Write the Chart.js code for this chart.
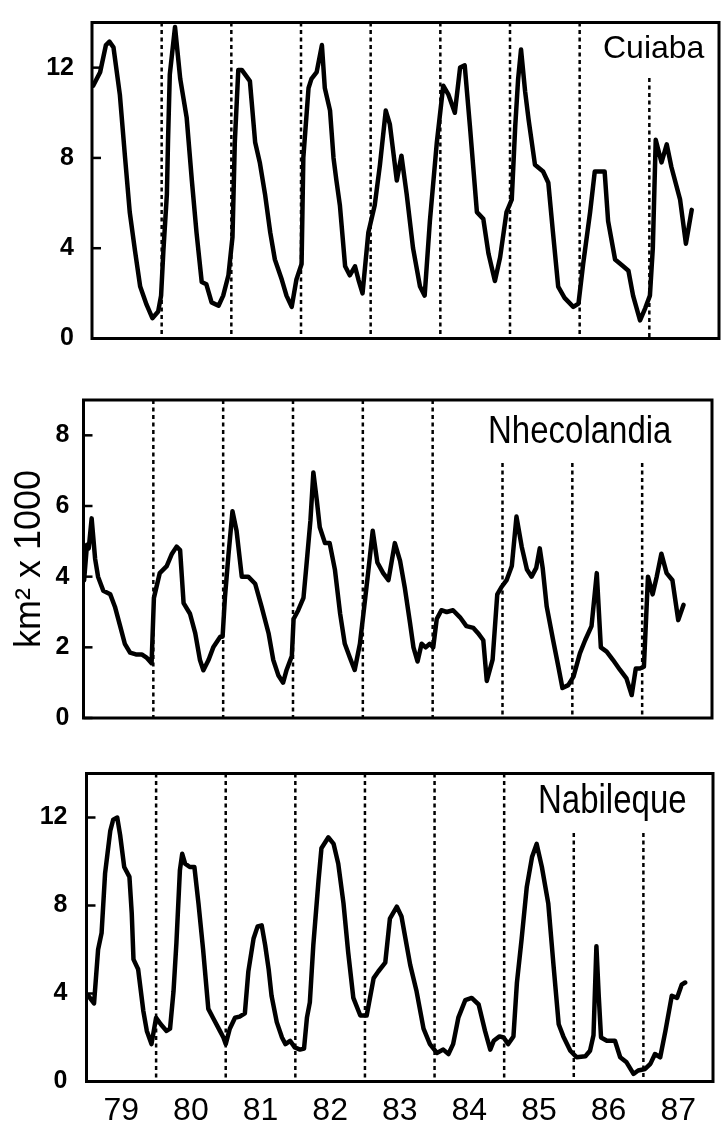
<!DOCTYPE html>
<html>
<head>
<meta charset="utf-8">
<script src="https://cdn.jsdelivr.net/npm/chart.js@4.4.0/dist/chart.umd.min.js"></script>
<style>
body { margin: 0; background: #fff; }
#wrap { position: relative; width: 723px; height: 1124px; }
canvas { position: absolute; left: 0; }
</style>
</head>
<body>
<div id="wrap">
    <canvas id="cuiabaChart" width="723" height="370" style="top:0px"></canvas>
    <canvas id="nhecolandiaChart" width="723" height="380" style="top:370px"></canvas>
    <canvas id="nabilequeChart" width="723" height="374" style="top:750px"></canvas>
</div>
<script>
// x values are months counted from January 1979
var yearLabels = ["79", "80", "81", "82", "83", "84", "85", "86", "87"];
var yearCenters = [6, 18, 30, 42, 54, 66, 78, 90, 102];
var yearStarts = [12, 24, 36, 48, 60, 72, 84, 96];

var cuiabaMonths = [0.2, 1.4, 2.4, 3.0, 3.7, 4.8, 5.7, 6.5, 7.4, 8.3, 9.4, 10.4, 11.4, 11.9, 12.3, 12.9, 13.1, 13.4, 14.3, 15.2,
    16.3, 17.2, 18.0, 18.9, 19.7, 20.6, 21.8, 22.6, 23.5, 24.2, 24.6, 25.2, 25.8, 27.2, 28.1, 28.9, 29.8, 30.7, 31.5, 32.7,
    33.5, 34.4, 35.2, 36.1, 36.4, 37.3, 37.8, 38.7, 39.6, 40.1, 41.0, 41.6, 42.1, 42.7, 43.6, 44.4, 45.3, 45.9, 46.6, 47.6,
    48.7, 49.6, 50.6, 51.3, 52.5, 53.3, 54.2, 55.3, 56.5, 57.3, 58.2, 59.4, 60.5, 61.4, 62.5, 63.4, 64.2, 65.1, 66.3, 67.4,
    68.3, 69.4, 70.3, 71.4, 72.3, 72.9, 73.4, 73.9, 74.6, 75.2, 76.3, 77.7, 78.6, 79.4, 80.3, 81.4, 82.9, 83.8, 84.6, 85.8,
    86.6, 88.3, 88.9, 90.1, 91.5, 92.4, 93.2, 94.4, 95.3, 96.1, 96.6, 97.1, 98.1, 99.0, 99.8, 101.3, 102.3, 103.3];
var cuiabaArea = [11.2, 11.8, 13.0, 13.15, 12.9, 10.8, 8.0, 5.6, 3.9, 2.3, 1.5, 0.9, 1.2, 1.9, 3.9, 6.4, 8.8, 11.7, 13.8, 11.5,
    9.8, 7.0, 4.7, 2.5, 2.4, 1.6, 1.45, 1.9, 2.8, 4.5, 8.7, 11.9, 11.9, 11.4, 8.7, 7.8, 6.4, 4.7, 3.5, 2.6,
    1.9, 1.4, 2.6, 3.3, 8.0, 11.1, 11.5, 11.8, 13.0, 11.1, 10.1, 8.0, 7.0, 5.9, 3.2, 2.8, 3.2, 2.6, 2.0, 4.7,
    5.9, 7.7, 10.1, 9.5, 7.0, 8.1, 6.4, 4.0, 2.3, 1.9, 5.2, 8.7, 11.2, 10.8, 10.0, 12.0, 12.1, 9.4, 5.6, 5.3,
    3.75, 2.55, 3.6, 5.6, 6.15, 9.4, 11.5, 12.8, 10.95, 9.7, 7.7, 7.4, 6.9, 4.7, 2.3, 1.8, 1.4, 1.55, 3.3, 5.6,
    7.4, 7.4, 5.2, 3.5, 3.2, 3.0, 1.9, 0.8, 1.35, 1.9, 4.0, 8.8, 7.8, 8.6, 7.6, 6.15, 4.2, 5.7];

var nhecolandiaMonths = [0.1, 0.6, 0.9, 1.4, 2.0, 2.5, 3.4, 4.6, 5.4, 6.3, 7.1, 8.0, 9.0, 10.0, 10.9, 11.7, 12.1, 13.1, 14.3, 15.2,
    16.0, 16.6, 17.2, 18.3, 19.2, 20.0, 20.6, 21.5, 22.3, 23.5, 23.9, 24.3, 24.9, 25.6, 26.3, 27.2, 28.3, 29.5, 30.6, 31.8,
    32.6, 33.5, 34.3, 34.9, 35.8, 36.1, 36.9, 37.8, 38.3, 39.0, 39.5, 40.1, 40.6, 41.5, 42.3, 43.2, 44.1, 44.9, 45.8, 46.6,
    47.5, 48.1, 48.9, 49.7, 50.5, 51.5, 52.4, 53.5, 54.4, 55.2, 56.1, 56.7, 57.4, 58.1, 58.8, 59.5, 60.1, 60.7, 61.5, 62.4,
    63.5, 64.7, 65.8, 67.0, 67.8, 68.7, 69.3, 70.3, 71.1, 71.8, 72.7, 73.6, 74.4, 75.3, 76.2, 77.0, 77.8, 78.4, 78.9, 79.6,
    80.7, 81.6, 82.3, 83.3, 84.2, 85.3, 86.2, 87.3, 88.2, 88.9, 89.9, 91.0, 92.2, 93.3, 94.2, 94.9, 95.6, 96.3, 97.0, 97.8,
    98.5, 99.3, 100.2, 101.2, 102.2, 103.1];
var nhecolandiaArea = [3.9, 4.9, 4.8, 5.65, 4.5, 4.0, 3.6, 3.5, 3.15, 2.6, 2.1, 1.85, 1.8, 1.8, 1.7, 1.55, 3.4, 4.1, 4.3, 4.65,
    4.85, 4.75, 3.25, 2.95, 2.4, 1.65, 1.35, 1.65, 2.0, 2.3, 2.3, 3.4, 4.6, 5.85, 5.3, 4.0, 4.0, 3.8, 3.15, 2.4,
    1.65, 1.2, 1.0, 1.36, 1.75, 2.8, 3.05, 3.4, 4.3, 5.6, 6.95, 6.15, 5.4, 4.95, 4.95, 4.2, 2.95, 2.1, 1.7, 1.36,
    2.1, 2.95, 4.1, 5.3, 4.4, 4.1, 3.9, 4.95, 4.45, 3.7, 2.7, 2.0, 1.6, 2.1, 2.0, 2.1, 2.0, 2.8, 3.05, 3.0,
    3.05, 2.85, 2.6, 2.55, 2.4, 2.2, 1.05, 1.65, 3.5, 3.7, 3.9, 4.3, 5.7, 4.85, 4.2, 4.0, 4.25, 4.8, 4.25, 3.15,
    2.2, 1.45, 0.85, 0.93, 1.17, 1.83, 2.2, 2.6, 4.1, 2.0, 1.88, 1.64, 1.36, 1.12, 0.65, 1.4, 1.4, 1.45, 4.0, 3.5,
    4.0, 4.65, 4.1, 3.9, 2.77, 3.2];

var nabilequeMonths = [0.3, 1.3, 2.0, 2.6, 3.2, 4.1, 4.6, 5.3, 5.8, 6.5, 7.4, 7.8, 8.1, 8.9, 9.8, 10.4, 11.2, 11.6, 12.0, 12.8,
    13.8, 14.4, 15.0, 15.5, 16.1, 16.5, 17.0, 17.8, 18.6, 19.3, 20.1, 21.0, 21.8, 23.0, 23.6, 24.0, 24.7, 25.6, 26.4, 27.3,
    27.9, 28.8, 29.5, 30.2, 30.8, 31.4, 31.9, 32.8, 33.7, 34.3, 35.1, 35.9, 36.8, 37.5, 38.0, 38.5, 39.1, 40.0, 40.5, 41.7,
    42.6, 43.4, 44.3, 45.1, 46.0, 47.2, 48.3, 49.5, 50.3, 51.5, 52.3, 53.5, 54.3, 55.8, 56.9, 58.1, 59.2, 60.4, 61.5, 62.4,
    63.2, 64.1, 65.3, 66.4, 67.6, 68.7, 69.6, 70.2, 71.2, 71.9, 72.7, 73.6, 74.2, 75.0, 75.9, 76.8, 77.6, 78.5, 79.6, 80.5,
    81.4, 82.2, 83.4, 84.5, 86.0, 86.8, 87.4, 87.9, 88.3, 88.7, 89.7, 91.1, 92.0, 93.1, 94.3, 95.1, 96.3, 97.2, 98.0, 98.9,
    99.8, 100.9, 101.8, 102.6, 103.2];
var nabilequeArea = [3.9, 3.55, 6.0, 6.75, 9.45, 11.4, 11.9, 12.0, 11.2, 9.75, 9.3, 7.65, 5.55, 5.1, 3.2, 2.3, 1.7, 2.3, 2.9, 2.6,
    2.3, 2.4, 4.1, 6.3, 9.6, 10.35, 9.9, 9.75, 9.75, 8.1, 6.0, 3.3, 2.9, 2.3, 2.0, 1.7, 2.4, 2.9, 2.95, 3.1,
    5.0, 6.5, 7.05, 7.1, 6.2, 5.1, 3.9, 2.7, 2.0, 1.7, 1.85, 1.55, 1.45, 1.5, 2.9, 3.6, 6.2, 9.15, 10.6, 11.1,
    10.8, 9.9, 8.1, 5.9, 3.8, 3.0, 3.0, 4.7, 5.0, 5.4, 7.4, 7.95, 7.5, 5.3, 4.1, 2.4, 1.7, 1.3, 1.45, 1.25,
    1.7, 2.9, 3.7, 3.8, 3.5, 2.3, 1.45, 1.85, 2.05, 2.0, 1.7, 2.05, 4.5, 6.45, 8.85, 10.2, 10.8, 9.75, 8.1, 5.3,
    2.6, 2.05, 1.4, 1.1, 1.15, 1.4, 2.1, 6.15, 3.9, 2.0, 1.85, 1.85, 1.1, 0.87, 0.35, 0.5, 0.57, 0.8, 1.25, 1.1,
    2.3, 3.9, 3.8, 4.4, 4.5];

function toPoints(months, values) {
    var pts = [];
    for (var i = 0; i < months.length; i++) {
        pts.push({x: months[i], y: values[i]});
    }
    return pts;
}

// frame, inward ticks, dashed year lines and the station name
var panelFrame = {
    id: "panelFrame",
    beforeDatasetsDraw: function(chart, args, opts) {
        var ctx = chart.ctx, area = chart.chartArea, xs = chart.scales.x;
        ctx.save();
        ctx.strokeStyle = "#000";
        ctx.lineWidth = 2.5;
        ctx.setLineDash([4, 3.5]);
        yearStarts.forEach(function(m) {
            var px = xs.getPixelForValue(m);
            var top = area.top;
            if (px > opts.labelX - 20) {
                top = opts.labelY + 20; // line stops under the name
            }
            ctx.beginPath();
            ctx.moveTo(px, top);
            ctx.lineTo(px, area.bottom);
            ctx.stroke();
        });
        ctx.restore();
    },
    afterDraw: function(chart, args, opts) {
        var ctx = chart.ctx, area = chart.chartArea, ys = chart.scales.y;
        ctx.save();
        ctx.strokeStyle = "#000";
        ctx.lineWidth = 3;
        ctx.strokeRect(area.left, area.top, area.right - area.left, area.bottom - area.top);
        ctx.lineWidth = 2.5;
        ys.ticks.forEach(function(t) {
            var py = ys.getPixelForValue(t.value);
            ctx.beginPath();
            ctx.moveTo(area.left, py);
            ctx.lineTo(area.left + 9, py);
            ctx.stroke();
        });
        ctx.fillStyle = "#000";
        ctx.font = opts.fontSize + 'px "Liberation Sans", Arial, sans-serif';
        ctx.textBaseline = "alphabetic";
        ctx.translate(opts.labelX, opts.labelY);
        ctx.scale(1, opts.stretch);
        ctx.fillText(opts.label, 0, 0);
        ctx.restore();
    }
};

function makeChart(id, points, cfg) {
    var ctx = document.getElementById(id).getContext("2d");
    return new Chart(ctx, {
        type: "line",
        data: {
            datasets: [{
                data: points,
                borderColor: "#000",
                borderWidth: 4.5,
                borderJoinStyle: "round",
                borderCapStyle: "round",
                pointRadius: 0,
                tension: 0,
                fill: false
            }]
        },
        options: {
            responsive: false,
            animation: false,
            events: [],
            layout: {
                padding: {top: cfg.top, right: cfg.right, left: 0, bottom: 0},
                autoPadding: false
            },
            plugins: {
                legend: {display: false},
                tooltip: {enabled: false},
                panelFrame: cfg.frame
            },
            scales: {
                x: {
                    type: "linear",
                    min: 0,
                    max: 108,
                    grid: {display: false},
                    border: {display: false},
                    afterBuildTicks: function(axis) {
                        axis.ticks = yearCenters.map(function(v) { return {value: v}; });
                    },
                    ticks: {
                        display: cfg.showYears,
                        autoSkip: false,
                        maxRotation: 0,
                        padding: 6,
                        color: "#000",
                        font: {family: '"Liberation Sans Narrow", "Liberation Sans", Arial', size: 32, lineHeight: 1},
                        callback: function(v, i) { return yearLabels[i]; }
                    },
                    afterFit: function(axis) { axis.height = cfg.xHeight; }
                },
                y: {
                    min: 0,
                    max: cfg.yMax,
                    grid: {display: false},
                    border: {display: false},
                    ticks: {
                        stepSize: cfg.yStep,
                        autoSkip: false,
                        padding: cfg.tickPad,
                        color: "#000",
                        font: {family: '"Liberation Sans", Arial', weight: "bold", size: 25, lineHeight: 1},
                        callback: function(v) { return v % cfg.labelStep === 0 ? String(v) : null; }
                    },
                    title: {
                        display: !!cfg.yTitle,
                        text: cfg.yTitle || "",
                        color: "#000",
                        padding: {top: 12, bottom: 0},
                        font: {family: '"Liberation Sans", Arial', size: 36, lineHeight: 1}
                    },
                    afterFit: function(axis) { axis.width = cfg.left; }
                }
            }
        },
        plugins: [panelFrame]
    });
}

makeChart("cuiabaChart", toPoints(cuiabaMonths, cuiabaArea), {
    top: 11, right: 4, left: 92, xHeight: 31.5, yMax: 14, yStep: 2, labelStep: 4, tickPad: 10, showYears: false,
    frame: {label: "Cuiaba", fontSize: 32, labelX: 603, labelY: 58, stretch: 1}
});

makeChart("nhecolandiaChart", toPoints(nhecolandiaMonths, nhecolandiaArea), {
    top: 30, right: 11, left: 83.5, xHeight: 32, yMax: 9, yStep: 1, labelStep: 2, tickPad: 6, showYears: false,
    yTitle: "km\u00b2 x 1000",
    frame: {label: "Nhecolandia", fontSize: 33, labelX: 488, labelY: 73, stretch: 1.2}
});

makeChart("nabilequeChart", toPoints(nabilequeMonths, nabilequeArea), {
    top: 18, right: 10, left: 86.5, xHeight: 42.5, yMax: 14, yStep: 2, labelStep: 4, tickPad: 11, showYears: true,
    frame: {label: "Nabileque", fontSize: 33, labelX: 538, labelY: 63, stretch: 1.25}
});
</script>
</body>
</html>
